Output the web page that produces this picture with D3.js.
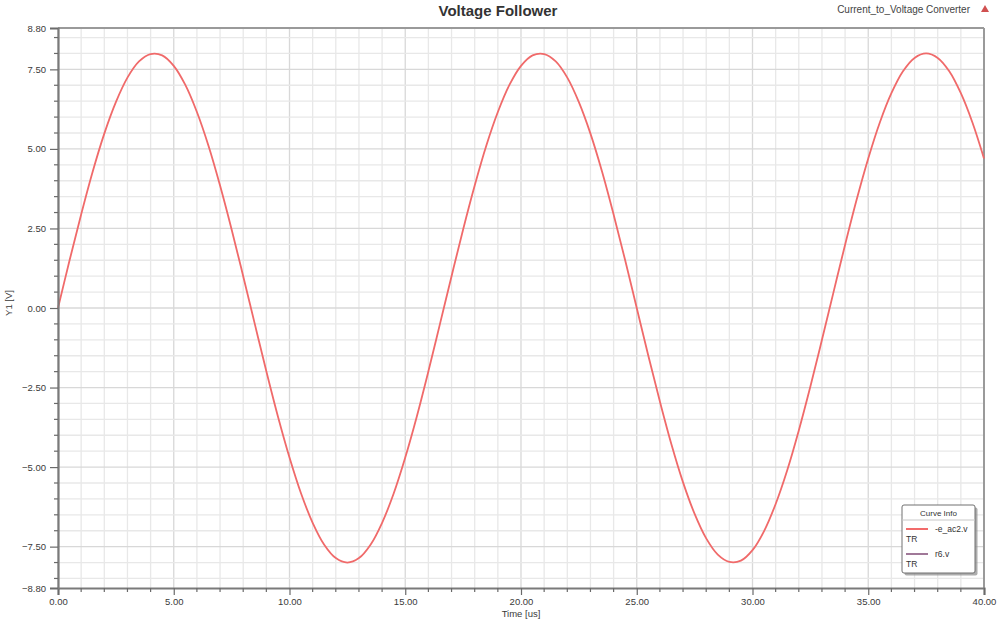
<!DOCTYPE html>
<html><head><meta charset="utf-8">
<script src="https://cdn.jsdelivr.net/npm/d3@7"></script>
<style>
html,body{margin:0;padding:0;background:#fff;}
svg{display:block;font-family:"Liberation Sans",Arial,sans-serif;}
</style></head>
<body><svg id="c" width="998" height="623"></svg>
<script>
// Time samples (us), every 0.5 us from 0 to 40
const timeUs = d3.range(0, 81).map(i => i * 0.5);
// Voltage (V)
const voltage = [
 0.00, 1.50, 2.94, 4.29, 5.48, 6.47, 7.24, 7.75, 7.98, 7.94,
 7.61, 7.01, 6.16, 5.10, 3.85, 2.47, 1.00, -0.50, -1.99, -3.41,
 -4.70, -5.83, -6.75, -7.44, -7.86, -8.00, -7.86, -7.44, -6.75, -5.83,
 -4.70, -3.41, -1.99, -0.50, 1.00, 2.47, 3.85, 5.10, 6.16, 7.01,
 7.61, 7.94, 7.98, 7.75, 7.24, 6.47, 5.48, 4.29, 2.94, 1.50,
 0.00, -1.50, -2.94, -4.29, -5.48, -6.47, -7.24, -7.75, -7.98, -7.94,
 -7.61, -7.01, -6.16, -5.10, -3.85, -2.47, -1.00, 0.50, 1.99, 3.41,
 4.70, 5.83, 6.75, 7.44, 7.86, 8.00, 7.86, 7.44, 6.75, 5.83,
 4.70
];
const xTicks = [0, 5, 10, 15, 20, 25, 30, 35, 40];
const yTicks = [8.8, 7.5, 5, 2.5, 0, -2.5, -5, -7.5, -8.8];
const xMinor = d3.range(0, 41, 1);
const yMinor = d3.range(-17, 18).map(i => i * 0.5).filter(v => v > -8.8 && v < 8.8);
const legendItems = [{name: "-e_ac2.v", color: "#f26b6b"}, {name: "r6.v", color: "#a07898"}];

const svg = d3.select("#c");
const L = 58, R = 984, T = 28, B = 588;
const x = d3.scaleLinear().domain([0, 40]).range([L, R]);
const y = d3.scaleLinear().domain([-8.8, 8.8]).range([B, T]);

// grid
const g = svg.append("g");
g.selectAll(".vx").data(xMinor).join("line")
  .attr("x1", d => x(d)).attr("x2", d => x(d)).attr("y1", T).attr("y2", B)
  .attr("stroke", d => d % 5 === 0 ? "#d8d8d8" : "#e8e8e8").attr("stroke-width", 1.3);
g.selectAll(".hy").data(yMinor).join("line")
  .attr("y1", d => y(d)).attr("y2", d => y(d)).attr("x1", L).attr("x2", R)
  .attr("stroke", d => d % 2.5 === 0 ? "#d8d8d8" : "#e8e8e8").attr("stroke-width", 1.3);

// frame top/right
svg.append("line").attr("x1", L).attr("x2", R).attr("y1", T).attr("y2", T).attr("stroke", "#9a9a9a").attr("stroke-width", 2);
svg.append("line").attr("x1", R).attr("x2", R).attr("y1", T).attr("y2", B).attr("stroke", "#9a9a9a").attr("stroke-width", 2);

// curve
const line = d3.line().x((d, i) => x(timeUs[i])).y(d => y(d)).curve(d3.curveCatmullRom);
svg.append("path").datum(voltage).attr("d", line)
  .attr("fill", "none").attr("stroke", "#f06a6a").attr("stroke-width", 1.8);

// axes
const fmt = d3.format(".2f");
const xAxis = d3.axisBottom(x).tickValues(xTicks).tickFormat(fmt).tickSize(7).tickPadding(3);
const yAxis = d3.axisLeft(y).tickValues(yTicks).tickFormat(fmt).tickSize(8).tickPadding(4);
const xa = svg.append("g").attr("transform", `translate(0,${B})`).call(xAxis);
const ya = svg.append("g").attr("transform", `translate(${L},0)`).call(yAxis);
[xa, ya].forEach(a => {
  a.select(".domain").attr("stroke", "#7a7a7a").attr("stroke-width", 2.2);
  a.selectAll(".tick line").attr("stroke", "#6a6a6a").attr("stroke-width", 1.2);
  a.selectAll(".tick text").attr("fill", "#3a3a3a").attr("font-size", 9.5).attr("font-family", "Liberation Sans, Arial, sans-serif");
});
// minor ticks
svg.append("g").selectAll("line").data(xMinor.filter(d => d % 5 !== 0)).join("line")
  .attr("x1", d => x(d)).attr("x2", d => x(d)).attr("y1", B).attr("y2", B + 4)
  .attr("stroke", "#6a6a6a").attr("stroke-width", 1.2);
svg.append("g").selectAll("line").data(yMinor.filter(d => d % 2.5 !== 0)).join("line")
  .attr("y1", d => y(d)).attr("y2", d => y(d)).attr("x1", L - 4).attr("x2", L)
  .attr("stroke", "#6a6a6a").attr("stroke-width", 1.2);

// titles
svg.append("text").attr("x", 498).attr("y", 16).attr("text-anchor", "middle")
  .attr("font-size", 15).attr("font-weight", "bold").attr("fill", "#333").text("Voltage Follower");
svg.append("text").attr("x", 970).attr("y", 13).attr("text-anchor", "end")
  .attr("font-size", 10).attr("fill", "#444").text("Current_to_Voltage Converter");
svg.append("path").attr("d", "M985,5 L989,12 L981,12 Z").attr("fill", "#d05050");
svg.append("text").attr("x", 521).attr("y", 617).attr("text-anchor", "middle")
  .attr("font-size", 9.5).attr("fill", "#3a3a3a").text("Time [us]");
svg.append("text").attr("transform", "translate(12,303) rotate(-90)").attr("text-anchor", "middle")
  .attr("font-size", 9.5).attr("fill", "#3a3a3a").text("Y1 [V]");

// legend
const lg = svg.append("g").attr("transform", "translate(902,505)");
lg.append("rect").attr("x", 2.5).attr("y", 2.5).attr("width", 73).attr("height", 68).attr("fill", "#8a8a8a").attr("opacity", 0.7).attr("rx", 2);
lg.append("rect").attr("width", 73).attr("height", 68).attr("fill", "#fff").attr("stroke", "#707070").attr("stroke-width", 1).attr("rx", 2);
lg.append("text").attr("x", 36.5).attr("y", 11).attr("text-anchor", "middle").attr("font-size", 8).attr("fill", "#333").text("Curve Info");
lg.append("line").attr("x1", 0).attr("x2", 73).attr("y1", 15).attr("y2", 15).attr("stroke", "#c8c8c8");
legendItems.forEach((it, i) => {
  const yy = 24 + i * 25;
  lg.append("line").attr("x1", 4).attr("x2", 26).attr("y1", yy).attr("y2", yy).attr("stroke", it.color).attr("stroke-width", 2);
  lg.append("text").attr("x", 33).attr("y", yy + 3).attr("font-size", 8.5).attr("fill", "#333").text(it.name);
  lg.append("text").attr("x", 4).attr("y", yy + 13).attr("font-size", 8.5).attr("fill", "#333").text("TR");
});
</script></body></html>
